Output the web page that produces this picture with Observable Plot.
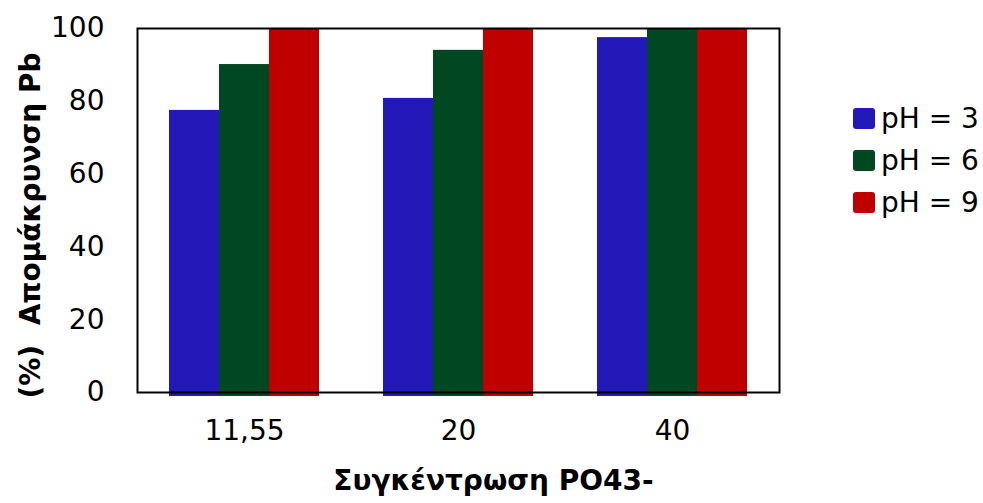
<!DOCTYPE html>
<html><head><meta charset="utf-8">
<script src="https://cdn.jsdelivr.net/npm/d3@7"></script>
<script src="https://cdn.jsdelivr.net/npm/@observablehq/plot@0.6"></script>
<style>
body{margin:0;background:#fff;}
#wrap{position:relative;width:983px;height:503px;font-family:"DejaVu Sans",sans-serif;}
#legend{position:absolute;left:853px;top:97px;font-size:28px;color:#000;}
#legend div{display:flex;align-items:center;height:42px;}
#legend span.sw{display:inline-block;width:22px;height:21px;border-radius:3px;margin-right:6px;}
</style></head>
<body><div id="wrap"><div id="legend"></div></div>
<script>
const categories = ["11,55", "20", "40"];
const series = ["pH = 3", "pH = 6", "pH = 9"];
const colors = ["#2318B8", "#004822", "#C00000"];
const ph3 = [77.5, 80.8, 97.5];
const ph6 = [90.1, 94.0, 100];
const ph9 = [100, 100, 100];
const yTicks = [0, 20, 40, 60, 80, 100];
const xLabel = "Συγκέντρωση PO43-";
const yLabel = "(%)  Απομάκρυνση Pb";

const values = [ph3, ph6, ph9];
const offsets = [-50, 0, 50];
const barMarks = series.map((s, i) => Plot.barY(
  categories.map((c, j) => ({cat: c, v: values[i][j]})),
  {x: "cat", y: "v", fill: colors[i], dx: offsets[i], insetLeft: 82, insetRight: 82, insetBottom: -4}
));

const chart = Plot.plot({
  width: 983, height: 503,
  marginLeft: 137, marginRight: 204, marginTop: 28, marginBottom: 111,
  style: {fontFamily: '"DejaVu Sans",sans-serif', fontSize: "28px", color: "#000", background: "#fff"},
  x: {domain: categories, padding: 0},
  y: {domain: [0, 100]},
  marks: [
    ...barMarks,
    Plot.frame({stroke: "#000", strokeWidth: 2}),
    Plot.axisX({tickSize: 0, tickPadding: 28, label: null, fontSize: 28}),
    Plot.axisY({ticks: yTicks, tickSize: 0, tickPadding: 33, label: null, fontSize: 28}),
    Plot.text([yLabel], {frameAnchor: "left", textAnchor: "middle", dx: -106, dy: 15, rotate: -90, fontWeight: "bold", fontSize: 28, fill: "#000"}),
    Plot.text([xLabel], {frameAnchor: "bottom", dx: 35, dy: 97, fontWeight: "bold", fontSize: 28, fill: "#000"})
  ]
});
document.getElementById("wrap").prepend(chart);
const lg = document.getElementById("legend");
series.forEach((s, i) => {
  const d = document.createElement("div");
  d.innerHTML = `<span class="sw" style="background:${colors[i]}"></span>${s}`;
  lg.appendChild(d);
});
</script></body></html>
